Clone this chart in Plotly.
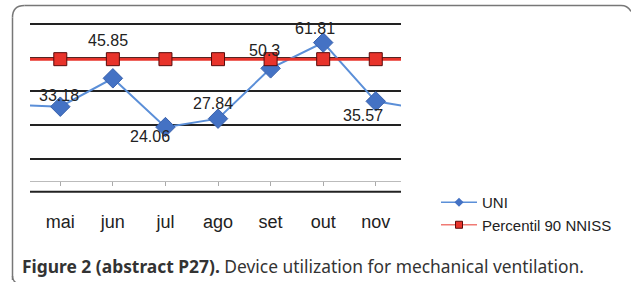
import plotly.graph_objects as go

# ---- data ----
months = ["abr", "mai", "jun", "jul", "ago", "set", "out", "nov", "dez"]
uni_values = [34.1, 33.18, 45.85, 24.06, 27.84, 50.3, 61.81, 35.57, 31.6]
p90_values = [54.4] * len(months)
label_months = ["mai", "jun", "jul", "ago", "set", "out", "nov"]
label_values = [33.18, 45.85, 24.06, 27.84, 50.3, 61.81, 35.57]
label_texts = ["33.18", "45.85", "24.06", "27.84", "50.3", "61.81", "35.57"]
# label offsets in pixels (styling)
label_dx = [-1, -5, -15, -5, -6, -8, -13]
label_dy = [11, 38, -9, 15, 18, 14, -14]

W, H = 631, 282
ML, MR, MT, MB = 30, 230, 22, 101
PW, PH = W - ML - MR, H - MT - MB

def px(x):
    return (x - ML) / PW

def py(y):
    return (H - MB - y) / PH

BLUE_LINE = "#5b8fd8"
BLUE_MARK = "#4472c4"
RED = "#e8332b"

fig = go.Figure()
fig.add_trace(go.Scatter(
    x=months, y=uni_values, name="UNI", mode="lines+markers", showlegend=False,
    line=dict(color=BLUE_LINE, width=2),
    marker=dict(symbol="diamond", size=15, color=BLUE_MARK,
                line=dict(color="#3a62ad", width=1)),
))
fig.add_trace(go.Scatter(
    x=months, y=p90_values, name="Percentil 90 NNISS", mode="lines+markers",
    showlegend=False,
    line=dict(color=RED, width=3),
    marker=dict(symbol="square", size=13, color=RED,
                line=dict(color="#5a0a0a", width=1)),
))
# legend entries (small symbols, as in the reference)
fig.add_trace(go.Scatter(
    x=[None], y=[None], name="UNI", mode="lines+markers",
    line=dict(color=BLUE_LINE, width=1.5),
    marker=dict(symbol="diamond", size=7, color=BLUE_MARK)))
fig.add_trace(go.Scatter(
    x=[None], y=[None], name="Percentil 90 NNISS", mode="lines+markers",
    line=dict(color="#f07a74", width=1.5),
    marker=dict(symbol="square", size=7, color=RED,
                line=dict(color="#5a0a0a", width=1))))

for m, v, t, dx, dy in zip(label_months, label_values, label_texts, label_dx, label_dy):
    fig.add_annotation(x=m, y=v, text=t, showarrow=False, xshift=dx, yshift=dy,
                       font=dict(family="Liberation Sans, Arial", size=16, color="#222"))

# extra gridline below the zero axis
fig.add_shape(type="line", xref="paper", yref="paper", x0=0, x1=1,
              y0=py(191.7), y1=py(191.7), line=dict(color="#222", width=2))

# outer frame (rounded top-left corner)
FR = dict(color="#777", width=1.5)
fx, fy, fr = 12.5, 5.5, 12
fig.add_shape(type="line", xref="paper", yref="paper",
              x0=px(fx), x1=px(fx), y0=py(280), y1=py(fy + fr), line=FR)
fig.add_shape(type="line", xref="paper", yref="paper",
              x0=px(fx + fr), x1=px(621), y0=py(fy), y1=py(fy), line=FR)
fig.add_shape(type="path", xref="paper", yref="paper",
              path=f"M{px(fx)} {py(fy + fr)} Q{px(fx)} {py(fy)} {px(fx + fr)} {py(fy)}",
              line=FR)
fig.add_shape(type="path", xref="paper", yref="paper",
              path=f"M{px(621)} {py(fy)} Q{px(628)} {py(fy)} {px(631)} {py(fy + 6)}",
              line=FR)
fig.add_shape(type="path", xref="paper", yref="paper",
              path=f"M{px(fx)} {py(276)} Q{px(fx)} {py(281)} {px(fx + 4)} {py(283)}",
              line=FR)

fig.add_annotation(
    xref="paper", yref="paper", x=px(20), y=py(266), xanchor="left", yanchor="middle",
    text="<b>Figure 2 (abstract P27).</b> Device utilization for mechanical ventilation.",
    showarrow=False, font=dict(family="Noto Sans", size=17.4, color="#333"))

fig.update_layout(
    width=W, height=H,
    margin=dict(l=ML, r=MR, t=MT, b=MB),
    paper_bgcolor="white", plot_bgcolor="white",
    font=dict(family="Liberation Sans, Arial", color="#222"),
    showlegend=True,
    legend=dict(x=px(436), y=py(186), xanchor="left", yanchor="top",
                font=dict(size=15, color="#222"), bgcolor="rgba(0,0,0,0)",
                tracegroupgap=0, itemwidth=36),
    xaxis=dict(type="category", categoryarray=months, range=[0.424, 7.48],
               showgrid=False, showline=True, linecolor="#bbb", linewidth=1,
               ticks="outside", ticklen=4, tickcolor="#aaa",
               tickfont=dict(size=18, color="#222"), ticklabelstandoff=20,
               zeroline=False),
    yaxis=dict(range=[0, 71], tick0=10, dtick=15, showgrid=True,
               gridcolor="#222", gridwidth=2, showticklabels=False,
               zeroline=False, showline=False),
)

fig.write_html("out.html", config={"displayModeBar": False},
               post_script="document.body.style.margin='0';")
